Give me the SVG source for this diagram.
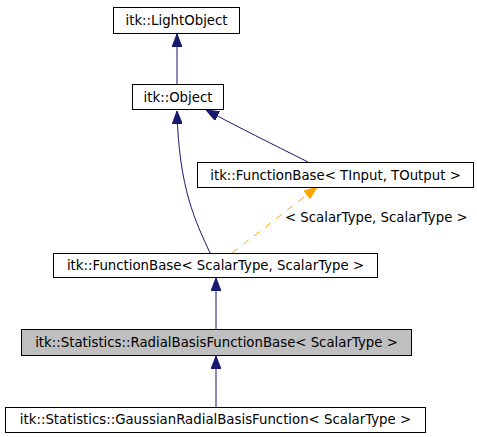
<svg xmlns="http://www.w3.org/2000/svg" width="477" height="437" viewBox="0 0 477 437">
<style>
.box{fill:#ffffff;stroke:#000000;stroke-width:1}
.hl{fill:#bfbfbf}
text{font-family:"DejaVu Sans",sans-serif;font-size:13.3px;fill:#000000}
.t{text-anchor:middle}
.e{fill:none;stroke:#191970;stroke-width:1}
.o{fill:none;stroke:#ffa500;stroke-width:1;stroke-dasharray:7,7}
</style>
<defs>
<marker id="ab" viewBox="0 0 13 10" refX="13" refY="5" markerWidth="13" markerHeight="10" markerUnits="userSpaceOnUse" orient="auto"><path d="M0,0 L13,5 L0,10 z" fill="#191970" stroke="#191970"/></marker>
<marker id="ao" viewBox="0 0 13 10" refX="13" refY="5" markerWidth="13" markerHeight="10" markerUnits="userSpaceOnUse" orient="auto"><path d="M0,0 L13,5 L0,10 z" fill="#ffa500" stroke="#ffa500"/></marker>
</defs>
<rect width="477" height="437" fill="#ffffff"/>
<g id="edges">
<path class="e" d="M177,84 L177,34" marker-end="url(#ab)"/>
<path class="e" d="M210,253 C196,222 179,190 177,111" marker-end="url(#ab)"/>
<path class="e" d="M308,162 C270,143 240,128 206,110" marker-end="url(#ab)"/>
<path class="o" d="M232,253 L317,187" marker-end="url(#ao)"/>
<text x="285" y="222">&lt; ScalarType, ScalarType &gt;</text>
<path class="e" d="M216,329 L216,278" marker-end="url(#ab)"/>
<path class="e" d="M216,407 L216,356" marker-end="url(#ab)"/>
</g>
<g id="lightobject"><rect class="box" x="113.5" y="7.5" width="126" height="26"/><text class="t" x="176.5" y="25">itk::LightObject</text></g>
<g id="object"><rect class="box" x="132.5" y="84.5" width="91" height="25"/><text class="t" x="178" y="102">itk::Object</text></g>
<g id="fbtinput"><rect class="box" x="197.5" y="162.5" width="276" height="25"/><text class="t" x="335.5" y="180">itk::FunctionBase&lt; TInput, TOutput &gt;</text></g>
<g id="fbscalar"><rect class="box" x="53.5" y="253.5" width="324" height="24"/><text class="t" x="215.5" y="270">itk::FunctionBase&lt; ScalarType, ScalarType &gt;</text></g>
<g id="radial"><rect class="box hl" x="21.5" y="329.5" width="390" height="26"/><text class="t" x="216.5" y="347">itk::Statistics::RadialBasisFunctionBase&lt; ScalarType &gt;</text></g>
<g id="gaussian"><rect class="box" x="5.5" y="407.5" width="420" height="25"/><text class="t" x="215.5" y="424">itk::Statistics::GaussianRadialBasisFunction&lt; ScalarType &gt;</text></g>
</svg>
